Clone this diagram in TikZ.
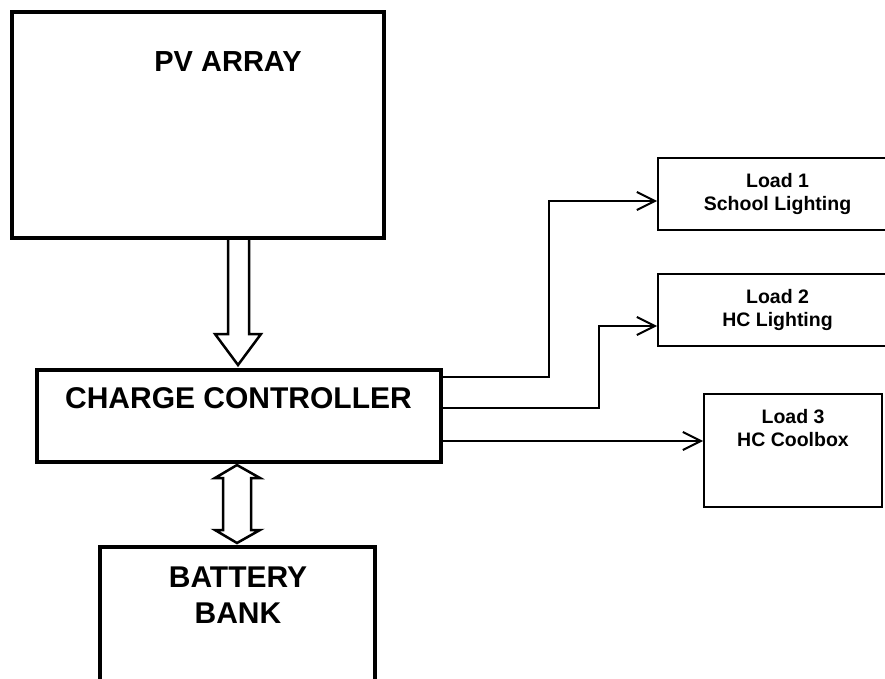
\documentclass[tikz,border=0pt]{standalone}
\usepackage{fontspec}
\setmainfont{Liberation Sans}
\usetikzlibrary{arrows.meta,calc}
\begin{document}
\begin{tikzpicture}[x=1pt,y=-1pt,
  thickbox/.style={draw, line width=4pt, inner sep=0pt},
  thinbox/.style={draw, line width=2pt, inner sep=0pt},
  bigtext/.style={font=\bfseries\fontsize{30}{36}\selectfont, anchor=base, align=center, inner sep=0pt},
  pvtext/.style={font=\bfseries\fontsize{29}{34}\selectfont, anchor=base, inner sep=0pt},
  loadtext/.style={font=\bfseries\fontsize{19.5}{23}\selectfont, anchor=base, align=center, inner sep=0pt},
  blockarrow/.style={draw, line width=2.5pt, miter limit=10},
  conn/.style={draw, line width=2pt, -{Straight Barb[length=18pt,width=18pt,line width=2pt]}}
]
\useasboundingbox (0,0) rectangle (885,679);

% main boxes
\node[thickbox, minimum width=372pt, minimum height=226pt] (pv) at (198,125) {};
\node[pvtext] (pvlabel) at (228,72) {PV ARRAY};

\node[thickbox, minimum width=404pt, minimum height=92pt] (cc) at (239,416) {};
\node[bigtext] (cclabel) at (238.5,408) {CHARGE CONTROLLER};

\node[thickbox, minimum width=275pt, minimum height=160pt] (bat) at (237.5,627) {};
% anchor=base is the baseline of the last line
\node[bigtext] (batlabel) at (238,623) {BATTERY\\BANK};

% loads
\node[thinbox, minimum width=239pt, minimum height=72pt] (load1) at (777.5,194) {};
\node[loadtext] (l1label) at (777.5,210) {Load 1\\School Lighting};

\node[thinbox, minimum width=239pt, minimum height=72pt] (load2) at (777.5,310) {};
\node[loadtext] (l2label) at (777.5,326) {Load 2\\HC Lighting};

\node[thinbox, minimum width=178pt, minimum height=113pt] (load3) at (793,450.5) {};
\node[loadtext] (l3label) at (793,446) {Load 3\\HC Coolbox};

% block arrow PV -> CC
\draw[blockarrow] ($(pv.south)+(30,0)$) |- (215,334) -- ($(cc.north)+(-1,-3)$) -- (261,334) -| ($(pv.south)+(51,0)$);

% double block arrow CC <-> battery
\draw[blockarrow] ($(cc.south)+(-2,1)$) -- (260,478) -- (251,478) -- (251,530) -- (260,530)
  -- ($(bat.north)+(-0.5,-2)$) -- (215,530) -- (223,530) -- (223,478) -- (215,478) -- cycle;

% connectors to loads
\coordinate (c1) at (549,377);
\coordinate (c2) at (599,408);
\draw[conn] (cc.east |- c1) -- (c1) |- (load1.west |- 0,201);
\draw[conn] (cc.east |- c2) -- (c2) |- (load2.west |- 0,326);
\draw[conn] (cc.east |- 0,441) -- (load3.west |- 0,441);
\end{tikzpicture}
\end{document}
